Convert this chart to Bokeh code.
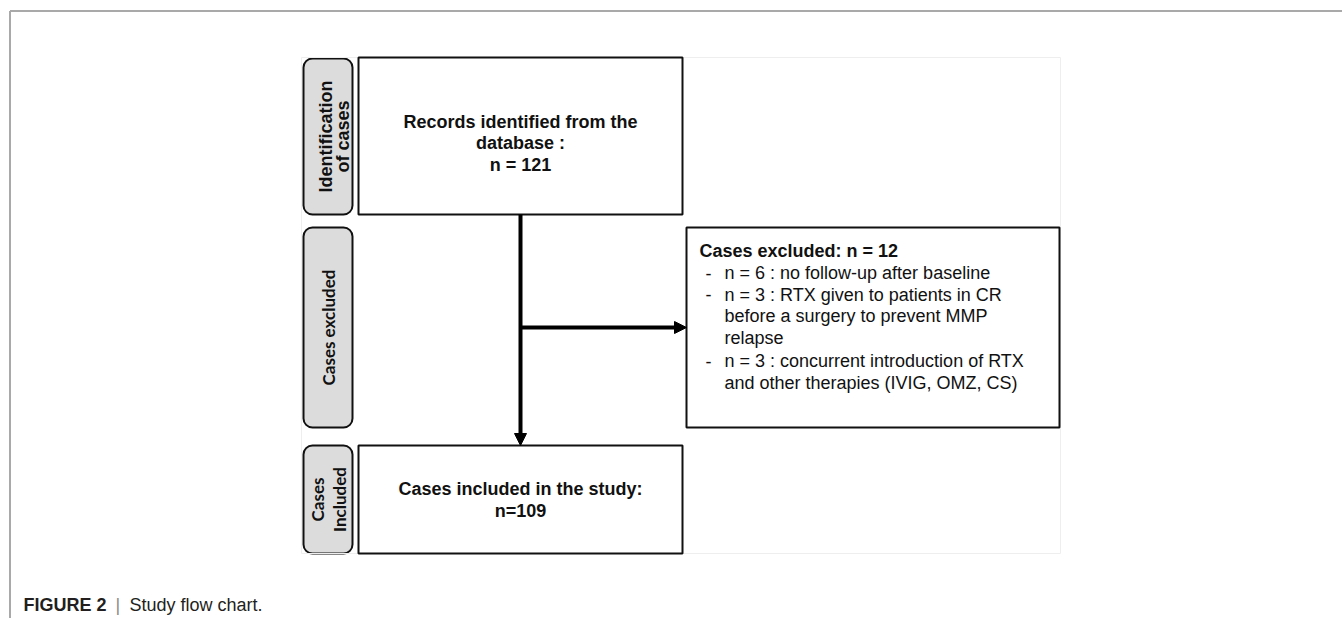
from bokeh.plotting import figure
from bokeh.models import Range1d, BoxAnnotation, Arrow, NormalHead, ColumnDataSource
from bokeh.core.properties import value
from bokeh.embed import file_html
from bokeh.resources import INLINE
import math

# ---------------- data ----------------
n_identified = 121
n_excluded = 12
n_included = 109
exclusion_counts = [6, 3, 3]
exclusion_reasons = [
    ["no follow-up after baseline"],
    ["RTX given to patients in CR", "before a surgery to prevent MMP", "relapse"],
    ["concurrent introduction of RTX", "and other therapies (IVIG, OMZ, CS)"],
]
stage_labels = [["Identification", "of cases"], ["Cases excluded"], ["Cases", "Included"]]
records_lines = ["Records identified from the", "database :", f"n = {n_identified}"]
included_lines = ["Cases included in the study:", f"n={n_included}"]
excluded_title = f"Cases excluded: n = {n_excluded}"
caption_bold = "FIGURE 2"
caption_text = "Study flow chart."

# ---------------- layout (pixels) ----------------
W, H = 1342, 618
p = figure(width=W, height=H, x_range=Range1d(0, W), y_range=Range1d(H, 0),
           output_backend="svg", toolbar_location=None, x_axis_type=None, y_axis_type=None,
           min_border=0, outline_line_color=None, background_fill_color="white",
           border_fill_color="white")
p.grid.visible = False

ARIAL = value("Liberation Sans")
LABEL_FONT = value("Lato")

# outer page frame
p.line(x=[9.5, W], y=[10.5, 10.5], line_color="#a9a9a9", line_width=2)
p.line(x=[9.5, 9.5], y=[10.5, H], line_color="#a9a9a9", line_width=2)

# faint frame of embedded figure
p.quad(left=[301], right=[1060], top=[57], bottom=[553], fill_color=None,
       line_color="#eeeeee", line_width=1)

# stage label boxes
stage_boxes = [(58, 214), (227, 427), (445, 553)]
for (t, b) in stage_boxes:
    p.add_layout(BoxAnnotation(left=303, right=352, top=t, bottom=b, border_radius=9,
                               fill_color="#dcdcdc", fill_alpha=1.0,
                               line_color="#111111", line_width=2, line_alpha=1.0,
                               level="underlay"))

# main boxes
boxes = dict(left=[358, 686, 358], right=[682, 1059, 682],
             top=[57, 227, 445], bottom=[214, 427, 553])
p.quad(source=ColumnDataSource(boxes), left="left", right="right", top="top", bottom="bottom",
       fill_color="white", line_color="#111111", line_width=2)

# connectors
p.add_layout(Arrow(end=NormalHead(size=12, fill_color="black", line_color="black", line_width=1),
                   x_start=520, y_start=214, x_end=520, y_end=445,
                   line_width=4, line_color="black"))
p.add_layout(Arrow(end=NormalHead(size=12, fill_color="black", line_color="black", line_width=1),
                   x_start=520, y_start=327, x_end=686, y_end=327,
                   line_width=4, line_color="black"))

# records box text
p.text(x=[520] * 3, y=[121, 142.5, 164], text=records_lines, text_font=ARIAL,
       text_font_size="18px", text_font_style="bold", text_align="center",
       text_baseline="middle", text_color="#111111")

# included box text
p.text(x=[520] * 2, y=[488.5, 510], text=included_lines, text_font=ARIAL,
       text_font_size="18px", text_font_style="bold", text_align="center",
       text_baseline="middle", text_color="#111111")

# excluded box text
p.text(x=[699], y=[250.5], text=[excluded_title], text_font=ARIAL, text_font_size="18px",
       text_font_style="bold", text_align="left", text_baseline="middle",
       text_color="#111111")
ex_x, ex_y, ex_t, dash_x, dash_y = [], [], [], [], []
y = 272.5
for i, (cnt, reason) in enumerate(zip(exclusion_counts, exclusion_reasons)):
    if i == 2:
        y += 2
    dash_x.append(705)
    dash_y.append(y)
    for j, line in enumerate(reason):
        ex_x.append(724)
        ex_y.append(y)
        ex_t.append(f"n = {cnt} : {line}" if j == 0 else line)
        y += 21.6
p.text(x=dash_x, y=dash_y, text=["-"] * len(dash_x), text_font=ARIAL, text_font_size="18px",
       text_align="left", text_baseline="middle", text_color="#111111")
p.text(x=ex_x, y=ex_y, text=ex_t, text_font=ARIAL, text_font_size="18px",
       text_align="left", text_baseline="middle", text_color="#111111")

# stage labels (rotated, reading bottom-to-top)
p.text(x=[325.5, 342.5], y=[136, 136], text=stage_labels[0], angle=math.pi / 2,
       text_font=ARIAL, text_font_size="18px", text_font_style="bold",
       text_align="center", text_baseline="middle", text_color="#111111")
p.text(x=[328], y=[327], text=stage_labels[1], angle=math.pi / 2,
       text_font=LABEL_FONT, text_font_size="17px", text_font_style="bold",
       text_align="center", text_baseline="middle", text_color="#111111")
p.text(x=[316.5, 339], y=[499, 499], text=stage_labels[2], angle=math.pi / 2,
       text_font=LABEL_FONT, text_font_size="17px", text_font_style="bold",
       text_align="center", text_baseline="middle", text_color="#111111")

# caption
p.text(x=[23], y=[604], text=[caption_bold], text_font=ARIAL, text_font_size="18px",
       text_font_style="bold", text_align="left", text_baseline="middle",
       text_color="#231f20")
p.text(x=[115], y=[604], text=["|"], text_font=ARIAL, text_font_size="18px",
       text_align="left", text_baseline="middle", text_color="#8a8a8a")
p.text(x=[129], y=[604], text=[caption_text], text_font=ARIAL, text_font_size="18px",
       text_align="left", text_baseline="middle", text_color="#231f20")

open("out.html", "w").write(file_html(p, INLINE))
